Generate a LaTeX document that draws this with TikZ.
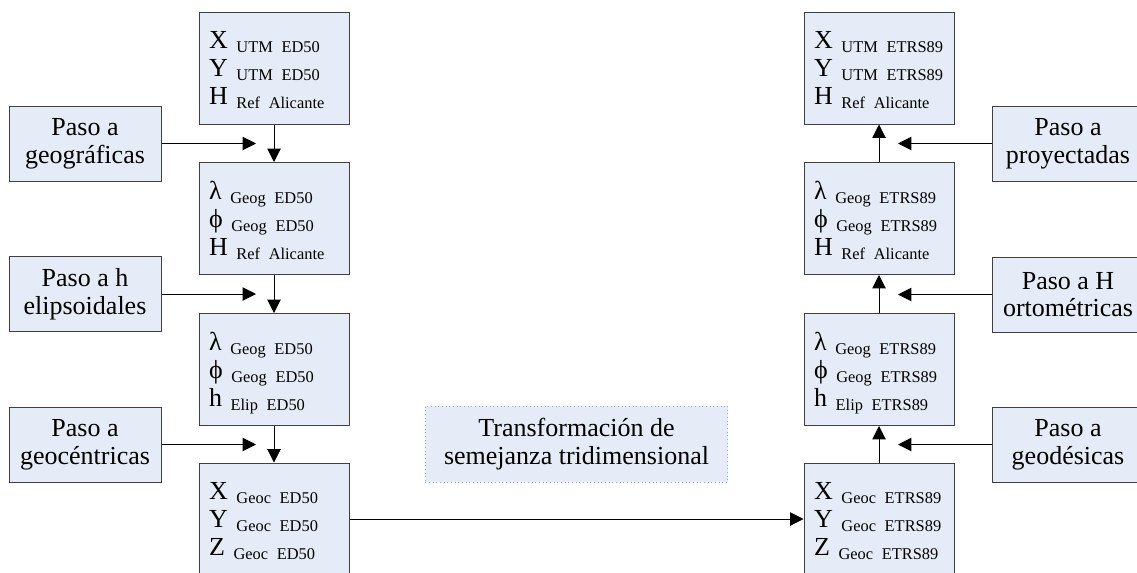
\documentclass[tikz,border=0pt]{standalone}
\usepackage{fontspec}
\setmainfont{Liberation Serif}
\usetikzlibrary{arrows.meta}
\definecolor{boxfill}{HTML}{E6ECF7}
\definecolor{boxdraw}{HTML}{404040}
\definecolor{dotdraw}{HTML}{8EA9DB}
\newcommand{\crd}[2]{\hspace*{7.5pt}#1 \smash{\raisebox{-3.2pt}{\fontsize{12.3}{14}\selectfont #2}}}
\begin{document}
\begin{tikzpicture}[x=0.75pt,y=-0.75pt,
  colbox/.style={draw=boxdraw, fill=boxfill, line width=0.75pt, text width=112.5pt,
    inner xsep=0pt, minimum height=84pt, align=left, font=\fontsize{19.5}{21}\selectfont},
  sidebox/.style={draw=boxdraw, fill=boxfill, line width=0.75pt, minimum width=114pt,
    minimum height=56.25pt, align=center, inner sep=2pt, font=\fontsize{19.5}{20.7}\selectfont},
  midbox/.style={draw=dotdraw, fill=boxfill, dotted, line width=0.75pt, minimum width=227pt,
    minimum height=57pt, align=center, font=\fontsize{19.5}{21.5}\selectfont},
  conn/.style={line width=0.75pt, -{Triangle[length=10pt,width=10pt]}}]
\clip (0,0) rectangle (1137,572);
\fill[white] (0,0) rectangle (1137,572);
% left column
\node[colbox] (L1) at (274,68) {\crd{X}{UTM ED50}\\ \crd{Y}{UTM ED50}\\ \crd{H}{Ref Alicante}};
\node[colbox] (L2) at (274,218.5) {\crd{λ}{Geog ED50}\\ \crd{ϕ}{Geog ED50}\\ \crd{H}{Ref Alicante}};
\node[colbox] (L3) at (274,369.5) {\crd{λ}{Geog ED50}\\ \crd{ϕ}{Geog ED50}\\ \crd{h}{Elip ED50}};
\node[colbox] (L4) at (274,519) {\crd{X}{Geoc ED50}\\ \crd{Y}{Geoc ED50}\\ \crd{Z}{Geoc ED50}};
% right column
\node[colbox] (R1) at (879,68) {\crd{X}{UTM ETRS89}\\ \crd{Y}{UTM ETRS89}\\ \crd{H}{Ref Alicante}};
\node[colbox] (R2) at (879,218.5) {\crd{λ}{Geog ETRS89}\\ \crd{ϕ}{Geog ETRS89}\\ \crd{H}{Ref Alicante}};
\node[colbox] (R3) at (879,369.5) {\crd{λ}{Geog ETRS89}\\ \crd{ϕ}{Geog ETRS89}\\ \crd{h}{Elip ETRS89}};
\node[colbox] (R4) at (879,519) {\crd{X}{Geoc ETRS89}\\ \crd{Y}{Geoc ETRS89}\\ \crd{Z}{Geoc ETRS89}};
% side boxes
\node[sidebox] (SL1) at (85,143.5) {Paso a\\geográficas};
\node[sidebox] (SL2) at (85,294) {Paso a h\\elipsoidales};
\node[sidebox] (SL3) at (85,444.5) {Paso a\\geocéntricas};
\node[sidebox] (SR1) at (1068,143.5) {Paso a\\proyectadas};
\node[sidebox] (SR2) at (1068,294.5) {Paso a H\\ortométricas};
\node[sidebox] (SR3) at (1068,444.5) {Paso a\\geodésicas};
% middle
\node[midbox] (M) at (576.5,444) {Transformación de\\semejanza tridimensional};
% arrow ends
\coordinate (tL1) at (256,143.5);
\coordinate (tL2) at (256,294);
\coordinate (tL3) at (256,444.5);
\coordinate (tR1) at (898,143.5);
\coordinate (tR2) at (898,294.5);
\coordinate (tR3) at (898,444.5);
% connectors
\draw[conn] (L1.south) -- (L2.north);
\draw[conn] (L2.south) -- (L3.north);
\draw[conn] (L3.south) -- (L4.north);
\draw[conn] (R4.north) -- (R3.south);
\draw[conn] (R3.north) -- (R2.south);
\draw[conn] (R2.north) -- (R1.south);
\draw[conn] (SL1.east) -- (tL1);
\draw[conn] (SL2.east) -- (tL2);
\draw[conn] (SL3.east) -- (tL3);
\draw[conn] (SR1.west) -- (tR1);
\draw[conn] (SR2.west) -- (tR2);
\draw[conn] (SR3.west) -- (tR3);
\draw[conn] (L4.east) -- (R4.west);
\end{tikzpicture}
\end{document}
